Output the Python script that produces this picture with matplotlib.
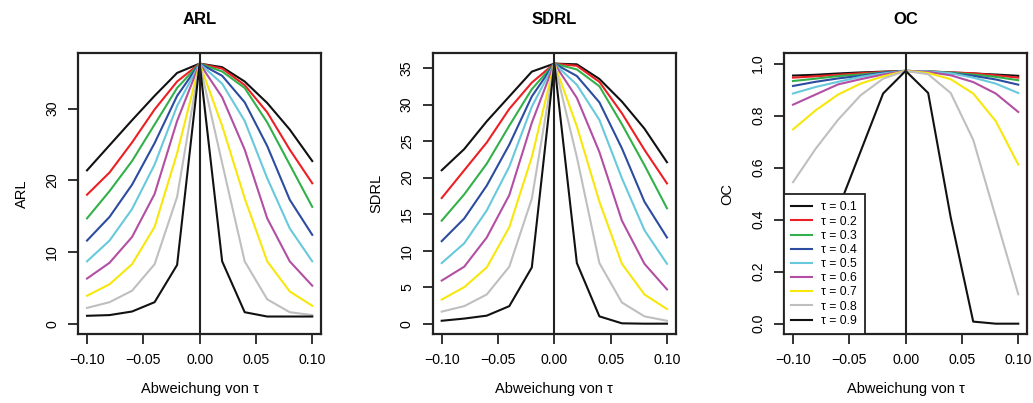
import numpy as np
import matplotlib
matplotlib.use("Agg")
import matplotlib.pyplot as plt

plt.rcParams["font.family"] = ["Liberation Sans", "DejaVu Sans"]

# Abweichung von tau (x axis)
dev = [-0.10, -0.08, -0.06, -0.04, -0.02, 0.00, 0.02, 0.04, 0.06, 0.08, 0.10]
taus = [0.1, 0.2, 0.3, 0.4, 0.5, 0.6, 0.7, 0.8, 0.9]
colors = ["#111111", "#ec2024", "#33b04a", "#2b4c9f", "#68c9dc",
          "#b24fa3", "#f7e70a", "#bfbfbf", "#111111"]

# ARL, one row per tau
arl = [
    [21.4, 24.9, 28.4, 31.8, 35.0, 36.3, 35.8, 33.8, 30.8, 27.1, 22.7],
    [18.0, 21.1, 25.3, 29.9, 33.8, 36.3, 35.6, 33.3, 29.5, 24.3, 19.6],
    [14.7, 18.5, 22.7, 27.8, 32.9, 36.3, 35.2, 32.9, 28.1, 22.2, 16.3],
    [11.6, 14.9, 19.4, 25.2, 31.8, 36.3, 34.6, 30.9, 24.8, 17.3, 12.4],
    [8.7, 11.6, 16.0, 22.2, 30.4, 36.3, 33.5, 28.3, 20.3, 13.3, 8.7],
    [6.3, 8.5, 12.1, 18.1, 28.3, 36.3, 31.6, 24.3, 14.7, 8.7, 5.3],
    [3.9, 5.5, 8.3, 13.5, 23.8, 36.3, 27.6, 17.5, 8.7, 4.5, 2.5],
    [2.2, 3.0, 4.6, 8.3, 17.7, 36.3, 22.4, 8.7, 3.4, 1.6, 1.2],
    [1.1, 1.2, 1.7, 3.0, 8.2, 36.3, 8.7, 1.6, 1.0, 1.0, 1.0],
]

# SDRL
sdrl = [
    [21.0, 23.9, 27.7, 31.1, 34.5, 35.6, 35.5, 33.5, 30.4, 26.7, 22.1],
    [17.2, 21.0, 24.8, 29.4, 33.0, 35.6, 35.3, 33.1, 28.8, 23.8, 19.2],
    [14.1, 17.7, 21.9, 27.1, 32.1, 35.6, 34.8, 32.5, 27.3, 21.7, 15.8],
    [11.3, 14.4, 18.9, 24.5, 31.1, 35.6, 33.9, 30.3, 24.0, 16.7, 11.8],
    [8.3, 11.0, 15.5, 21.5, 29.7, 35.6, 32.7, 27.9, 19.9, 12.8, 8.2],
    [5.9, 7.8, 11.8, 17.6, 27.5, 35.6, 30.9, 23.5, 14.1, 8.2, 4.7],
    [3.3, 5.0, 7.7, 13.2, 22.8, 35.6, 27.0, 16.7, 8.2, 4.0, 2.0],
    [1.65, 2.4, 4.0, 7.8, 17.1, 35.6, 22.8, 8.3, 2.9, 1.0, 0.4],
    [0.4, 0.7, 1.1, 2.4, 7.7, 35.6, 8.3, 1.0, 0.05, 0.0, 0.0],
]

# OC
oc = [
    [0.954, 0.957, 0.962, 0.966, 0.969, 0.972, 0.970, 0.966, 0.962, 0.958, 0.953],
    [0.946, 0.951, 0.957, 0.963, 0.968, 0.972, 0.970, 0.966, 0.963, 0.955, 0.946],
    [0.933, 0.942, 0.952, 0.958, 0.966, 0.972, 0.970, 0.965, 0.958, 0.949, 0.936],
    [0.914, 0.930, 0.943, 0.953, 0.965, 0.972, 0.969, 0.963, 0.953, 0.939, 0.919],
    [0.885, 0.910, 0.930, 0.949, 0.962, 0.972, 0.970, 0.963, 0.946, 0.923, 0.887],
    [0.842, 0.881, 0.920, 0.940, 0.958, 0.972, 0.968, 0.955, 0.929, 0.885, 0.814],
    [0.747, 0.820, 0.881, 0.923, 0.951, 0.972, 0.964, 0.940, 0.885, 0.779, 0.612],
    [0.544, 0.672, 0.784, 0.878, 0.942, 0.972, 0.959, 0.887, 0.707, 0.410, 0.113],
    [0.080, 0.200, 0.440, 0.662, 0.885, 0.972, 0.887, 0.409, 0.008, 0.000, 0.000],
]

panels = [
    ("ARL", arl, [0, 10, 20, 30], ["0", "10", "20", "30"], 36.3),
    ("SDRL", sdrl, list(range(0, 36, 5)), [str(v) for v in range(0, 36, 5)], 35.6),
    ("OC", oc, [0, 0.2, 0.4, 0.6, 0.8, 1.0], ["0.0", "0.2", "0.4", "0.6", "0.8", "1.0"], 1.0),
]
lefts = [78 / 1033, 432.7 / 1033, 784 / 1033]

fig = plt.figure(figsize=(10.33, 4.03), dpi=100)
for (name, data, yt, ytl, ymax), left in zip(panels, lefts):
    ax = fig.add_axes([left, 0.171, 0.2355, 0.697])
    for row, c, t in zip(data, colors, taus):
        ax.plot(dev, row, color=c, lw=1.5, label=f"τ = {t}")
    ax.axvline(0, color="#222222", lw=1.5)
    pad = 0.04 * ymax
    ax.set_ylim(-pad, ymax + pad)
    ax.set_xlim(-0.108, 0.108)
    ax.set_xticks([-0.10, -0.05, 0.0, 0.05, 0.10])
    ax.set_xticklabels(["\u22120.10", "\u22120.05", "0.00", "0.05", "0.10"])
    ax.set_yticks(yt)
    ax.set_yticklabels(ytl, rotation=90, va="center")
    ax.tick_params(direction="out", length=7, width=1.3, labelsize=10.2, pad=6.5, color="#222222")
    for s in ax.spines.values():
        s.set_linewidth(1.6)
        s.set_color("#222222")
    ax.set_title(name, fontsize=12, fontweight="bold", pad=21)
    ax.set_xlabel("Abweichung von τ", fontsize=10.5, labelpad=11)
    ax.set_ylabel(name, fontsize=10.5, labelpad=12)
    if name == "OC":
        leg = ax.legend(loc="lower left", bbox_to_anchor=(0, 0), borderaxespad=0,
                        fontsize=8.7, frameon=True, fancybox=False, framealpha=1,
                        edgecolor="#222222", handlelength=1.7, handletextpad=0.8,
                        labelspacing=0.18, borderpad=0.6)
        leg.get_frame().set_linewidth(1.3)

fig.savefig("out.png", dpi=100)
